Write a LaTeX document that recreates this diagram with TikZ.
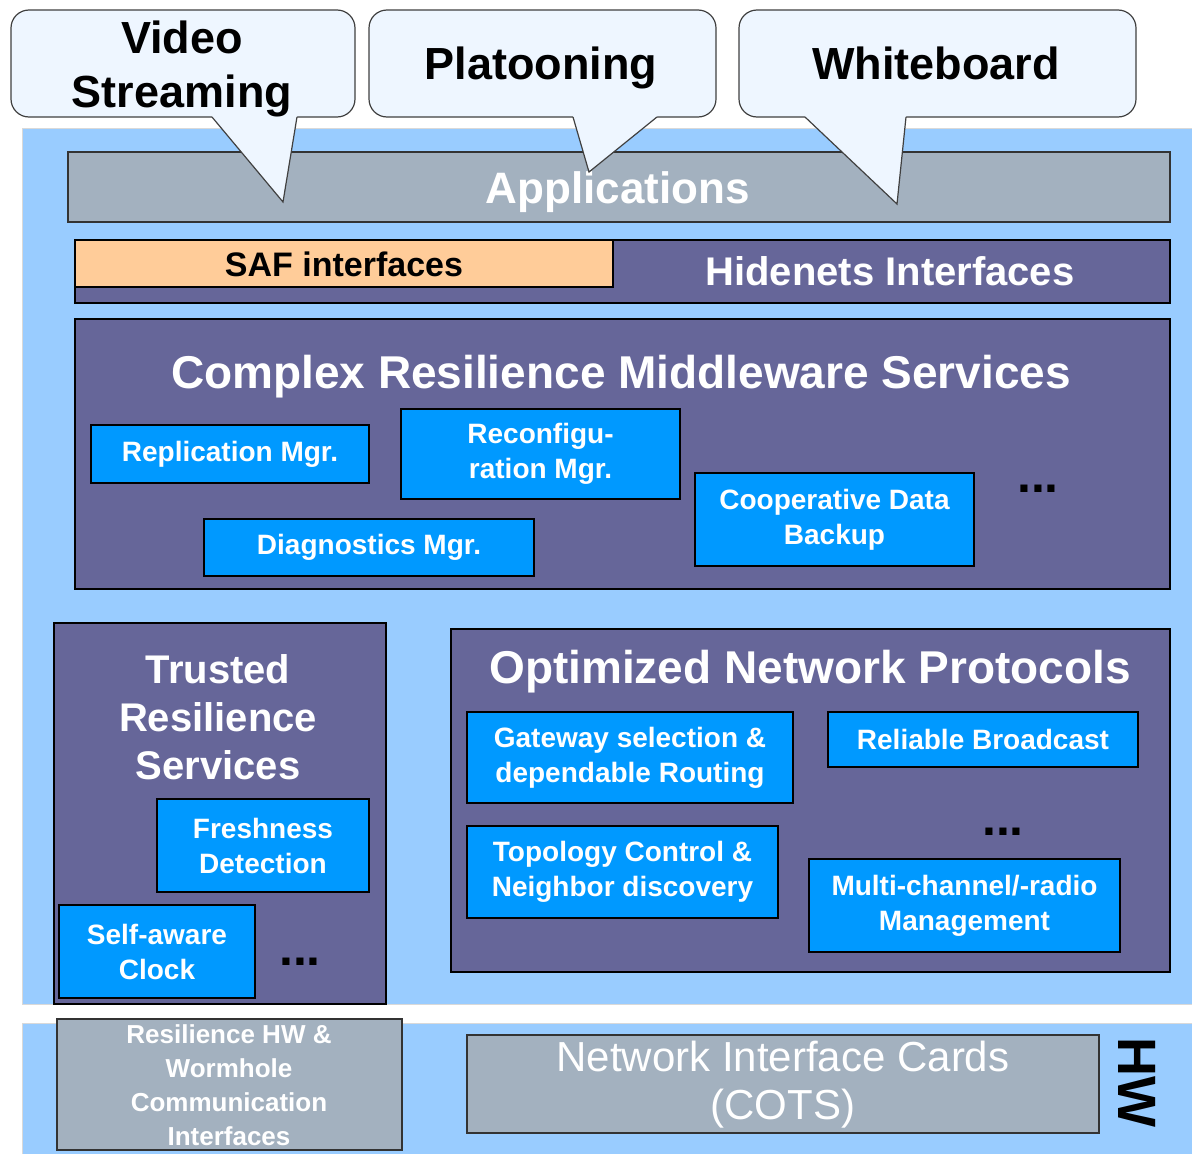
\documentclass[tikz,border=0pt]{standalone}
\usepackage{fontspec}
\setmainfont{Liberation Sans}
\definecolor{panelblue}{HTML}{99CCFF}
\definecolor{layerpurple}{HTML}{666699}
\definecolor{svcblue}{HTML}{0099FF}
\definecolor{appgray}{HTML}{A3B1BF}
\definecolor{saforange}{HTML}{FFCC99}
\definecolor{bubblefill}{HTML}{EEF6FF}
\newcommand{\fsz}[2]{\fontsize{#1}{#2}\selectfont}
\begin{document}
\begin{tikzpicture}[x=1pt,y=-1pt,
  panel/.style={fill=panelblue,draw=black!15,line width=1pt},
  layer/.style={draw=black,fill=layerpurple,line width=1.5pt},
  graybox/.style={draw=black!80,fill=appgray,line width=1.5pt},
  svcbox/.style={draw=black,fill=svcblue,line width=1.5pt,text=white,align=center,inner sep=0pt,font=\fsz{28}{35}\bfseries},
  title/.style={text=white,align=center,anchor=base,inner sep=0pt},
  bubble/.style={draw=black!75,fill=bubblefill,line width=1.2pt},
  more/.style={font=\fsz{50}{50}\bfseries,inner sep=0pt}]
\useasboundingbox (0,0) rectangle (1192,1154);
% panels
\draw[panel] (22,128) rectangle (1192,1004);
\draw[panel] (22,1023) rectangle (1192,1154);
% applications
\draw[graybox] (68,152) rectangle (1170,222);
\node[title,font=\fsz{44}{44}\bfseries] (apps) at (618,203) {Applications};
\foreach \xa/\xb/\ta/\tx/\ty/\tb in {11/355/212/283/202/297,369/716/573/589/172/657,739/1136/805/897/204/906}
{
\draw[bubble,rounded corners=18pt] (\xa,10) rectangle (\xb,117);
\fill[bubblefill] (\ta,113) -- (\ta,117) -- (\tx,\ty) -- (\tb,117) -- (\tb,113) -- cycle;
\draw[bubble,fill=none] (\ta,117) -- (\tx,\ty) -- (\tb,117);
}
% last line sits on the given baseline
\node[anchor=base,align=center,font=\fsz{45}{54}\bfseries] (video) at (182,107) {Video\\Streaming};
\node[anchor=base,font=\fsz{45}{54}\bfseries] (platoon) at (541,79) {Platooning};
\node[anchor=base,font=\fsz{45}{54}\bfseries] (wboard) at (936,79) {Whiteboard};
% interfaces
\draw[layer] (75,240) rectangle (1170,303);
\draw[draw=black,fill=saforange,line width=1.5pt] (75,240) rectangle (613,287);
\node[anchor=base,inner sep=0pt,font=\fsz{34}{34}\bfseries] (saf) at (344,276) {SAF interfaces};
\node[title,font=\fsz{40}{40}\bfseries] (hidenets) at (890,285) {Hidenets Interfaces};
% middleware
\draw[layer] (75,319) rectangle (1170,589);
\node[title,font=\fsz{46}{46}\bfseries] (crms) at (621,388) {Complex Resilience Middleware Services};
\node[svcbox,minimum width=278pt,minimum height=58pt] (repl) at (230,454) {Replication Mgr.};
\node[svcbox,minimum width=279pt,minimum height=90pt] (reconf) at (540.5,454) {Reconfigu-\\ration Mgr.};
\node[svcbox,minimum width=330pt,minimum height=57pt] (diag) at (369,547.5) {Diagnostics Mgr.};
\node[svcbox,minimum width=279pt,minimum height=93pt] (coop) at (834.5,519.5) {Cooperative Data\\Backup};
\node[more] (crmsmore) at (1038,489) {...};
% trusted
\draw[layer] (54,623) rectangle (386,1004);
\node[title,font=\fsz{40}{48}\bfseries] (trs) at (218,779) {Trusted\\Resilience\\Services};
\node[svcbox,minimum width=212pt,minimum height=93pt] (fresh) at (263,845.5) {Freshness\\Detection};
\node[svcbox,minimum width=196pt,minimum height=93pt] (clock) at (157,951.5) {Self-aware\\Clock};
\node[more] (trsmore) at (300,962) {...};
% network
\draw[layer] (451,629) rectangle (1170,972);
\node[title,font=\fsz{46}{46}\bfseries] (onp) at (810,683) {Optimized Network Protocols};
\node[svcbox,minimum width=326pt,minimum height=91pt] (gateway) at (630,757.5) {Gateway selection \&\\dependable Routing};
\node[svcbox,minimum width=310pt,minimum height=55pt] (bcast) at (983,739.5) {Reliable Broadcast};
\node[svcbox,minimum width=311pt,minimum height=92pt] (topo) at (622.5,872) {Topology Control \&\\Neighbor discovery};
\node[svcbox,minimum width=311pt,minimum height=93pt] (radio) at (964.5,905.5) {Multi-channel/-radio\\Management};
\node[more] (onpmore) at (1003,832) {...};
% hardware
\draw[graybox] (57,1019) rectangle (402,1150);
\node[title,font=\fsz{26}{34}\bfseries] (rhw) at (229,1145) {Resilience HW \&\\Wormhole\\Communication\\Interfaces};
\draw[graybox] (467,1035) rectangle (1099,1133);
\node[title,font=\fsz{42}{48}] (nic) at (783,1119) {Network Interface Cards\\(COTS)};
\node[rotate=-90,font=\fsz{54}{54}\bfseries] (hw) at (1137,1082) {HW};
\end{tikzpicture}
\end{document}
